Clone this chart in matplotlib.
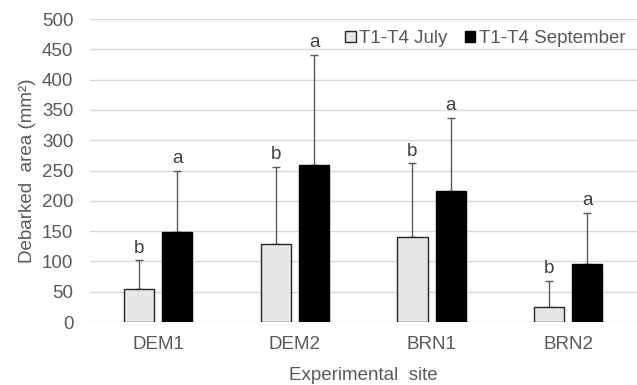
import matplotlib.pyplot as plt
import numpy as np

sites = ["DEM1", "DEM2", "BRN1", "BRN2"]
july = [55, 129, 141, 24]
july_err = [47, 127, 121, 44]
september = [148, 259, 217, 95]
september_err = [102, 182, 120, 85]
july_letters = ["b", "b", "b", "b"]
september_letters = ["a", "a", "a", "a"]

text_color = "#595959"
fs = 13.5
plt.rcParams["font.family"] = ["Arial", "Liberation Sans", "DejaVu Sans"]

fig = plt.figure(figsize=(6.37, 3.85), dpi=100)
ax = fig.add_axes([0.1413, 0.1636, 0.858, 0.787])

x = np.arange(len(sites))
width = 0.22
offset = 0.14

ax.bar(x - offset, july, width, color="#e6e6e6", edgecolor="#262626",
       linewidth=1.0, label="T1-T4 July", zorder=3)
ax.bar(x + offset, september, width, color="black", edgecolor="black",
       linewidth=1.0, label="T1-T4 September", zorder=3)

ax.errorbar(x - offset, july, yerr=[np.zeros(len(july)), july_err],
            fmt="none", ecolor=text_color, elinewidth=1, capsize=3, zorder=2)
ax.errorbar(x + offset, september, yerr=[np.zeros(len(september)), september_err],
            fmt="none", ecolor=text_color, elinewidth=1, capsize=3, zorder=2)

for i in range(len(sites)):
    ax.text(x[i] - offset, july[i] + july_err[i] + 6, july_letters[i],
            ha="center", va="bottom", fontsize=fs, color="#404040")
    ax.text(x[i] + offset, september[i] + september_err[i] + 6, september_letters[i],
            ha="center", va="bottom", fontsize=fs, color="#404040")

ax.set_xlim(-0.5, len(sites) - 0.5)
ax.set_ylim(0, 500)
ax.set_yticks(range(0, 501, 50))
ax.set_xticks(x)
ax.set_xticklabels(sites)
ax.grid(axis="y", color="#d9d9d9", linewidth=1, zorder=0)
ax.set_axisbelow(True)
for s in ax.spines.values():
    s.set_visible(False)
ax.tick_params(axis="both", length=0, labelsize=fs, colors=text_color)
ax.tick_params(axis="y", pad=12)
ax.tick_params(axis="x", pad=10)

ax.set_ylabel("Debarked  area (mm²)", fontsize=fs, color=text_color, labelpad=4)
ax.set_xlabel("Experimental  site", fontsize=fs, color=text_color, labelpad=10)

leg = ax.legend(loc="upper right", bbox_to_anchor=(1.0, 1.0), ncol=2, frameon=False,
                fontsize=fs, handlelength=0.55, handleheight=0.55, handletextpad=0.2,
                columnspacing=0.9, borderaxespad=0.2)
for t in leg.get_texts():
    t.set_color(text_color)

fig.savefig("out.png", dpi=100)
